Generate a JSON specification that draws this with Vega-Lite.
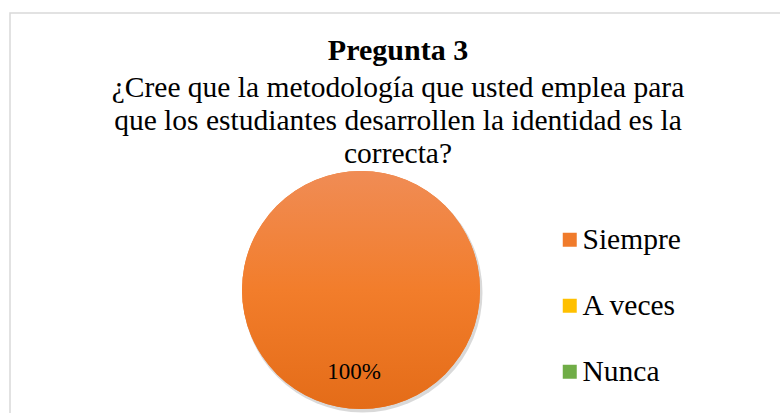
{
  "$schema": "https://vega.github.io/schema/vega-lite/v6.json",
  "width": 776,
  "height": 410,
  "autosize": {"type": "none"},
  "padding": {"left": 10, "top": 13, "right": 0, "bottom": 0},
  "background": "white",
  "view": {"stroke": "#d9d9d9", "strokeWidth": 1.5, "fill": "white"},
  "config": {
    "font": "Liberation Serif, Times New Roman, serif",
    "title": {"font": "Liberation Serif, Times New Roman, serif", "subtitleFont": "Liberation Serif, Times New Roman, serif"},
    "legend": {"labelFont": "Liberation Serif, Times New Roman, serif"},
    "text": {"font": "Liberation Serif, Times New Roman, serif"}
  },
  "title": {
    "text": "Pregunta 3",
    "subtitle": [
      "¿Cree que la metodología que usted emplea para",
      "que los estudiantes desarrollen la identidad es la",
      "correcta?"
    ],
    "font": "Liberation Serif, Times New Roman, serif",
    "fontSize": 30,
    "fontWeight": "bold",
    "color": "black",
    "subtitleFont": "Liberation Serif, Times New Roman, serif",
    "subtitleFontSize": 29.5,
    "subtitleFontWeight": "normal",
    "subtitleColor": "black",
    "subtitleLineHeight": 33,
    "subtitlePadding": 8,
    "anchor": "middle",
    "frame": "group",
    "offset": -155
  },
  "data": {
    "values": [
      {"respuesta": "Siempre", "valor": 100, "etiqueta": "100%"},
      {"respuesta": "A veces", "valor": 0, "etiqueta": "0%"},
      {"respuesta": "Nunca", "valor": 0, "etiqueta": "0%"}
    ]
  },
  "layer": [
    {
      "transform": [{"filter": "datum.valor > 0"}],
      "mark": {
        "type": "arc",
        "outerRadius": 120,
        "x": 352.5,
        "y": 279.5,
        "fill": "#000000",
        "opacity": 0.15
      },
      "encoding": {
        "theta": {"field": "valor", "type": "quantitative", "stack": true}
      }
    },
    {
      "mark": {"type": "arc", "outerRadius": 119, "x": 351, "y": 277},
      "encoding": {
        "theta": {"field": "valor", "type": "quantitative", "stack": true},
        "color": {
          "field": "respuesta",
          "type": "nominal",
          "sort": ["Siempre", "A veces", "Nunca"],
          "scale": {
            "domain": ["Siempre", "A veces", "Nunca"],
            "range": ["#F07B2B", "#FFC000", "#70AD47"]
          },
          "legend": {
            "title": null,
            "orient": "none",
            "legendX": 545,
            "legendY": 212,
            "symbolType": "square",
            "symbolSize": 196,
            "symbolStrokeWidth": 0,
            "labelFontSize": 29.5,
            "labelFont": "Liberation Serif, Times New Roman, serif",
            "labelColor": "black",
            "labelOffset": -2,
            "rowPadding": 35
          }
        }
      }
    },
    {
      "transform": [{"filter": "datum.valor > 0"}],
      "mark": {
        "type": "arc",
        "outerRadius": 119,
        "x": 351,
        "y": 277,
        "fill": {
          "gradient": "linear",
          "x1": 0, "y1": 0, "x2": 0, "y2": 1,
          "stops": [
            {"offset": 0, "color": "#F08C55"},
            {"offset": 0.5, "color": "#F27D2B"},
            {"offset": 1, "color": "#E46C18"}
          ]
        }
      },
      "encoding": {
        "theta": {"field": "valor", "type": "quantitative", "stack": true}
      }
    },
    {
      "transform": [{"filter": "datum.valor > 0"}],
      "mark": {
        "type": "text",
        "x": 351,
        "y": 277,
        "dx": -7,
        "radius": 82,
        "font": "Liberation Serif, Times New Roman, serif",
        "fontSize": 23,
        "color": "black"
      },
      "encoding": {
        "theta": {"field": "valor", "type": "quantitative", "stack": true},
        "text": {"field": "etiqueta", "type": "nominal"}
      }
    }
  ]
}
